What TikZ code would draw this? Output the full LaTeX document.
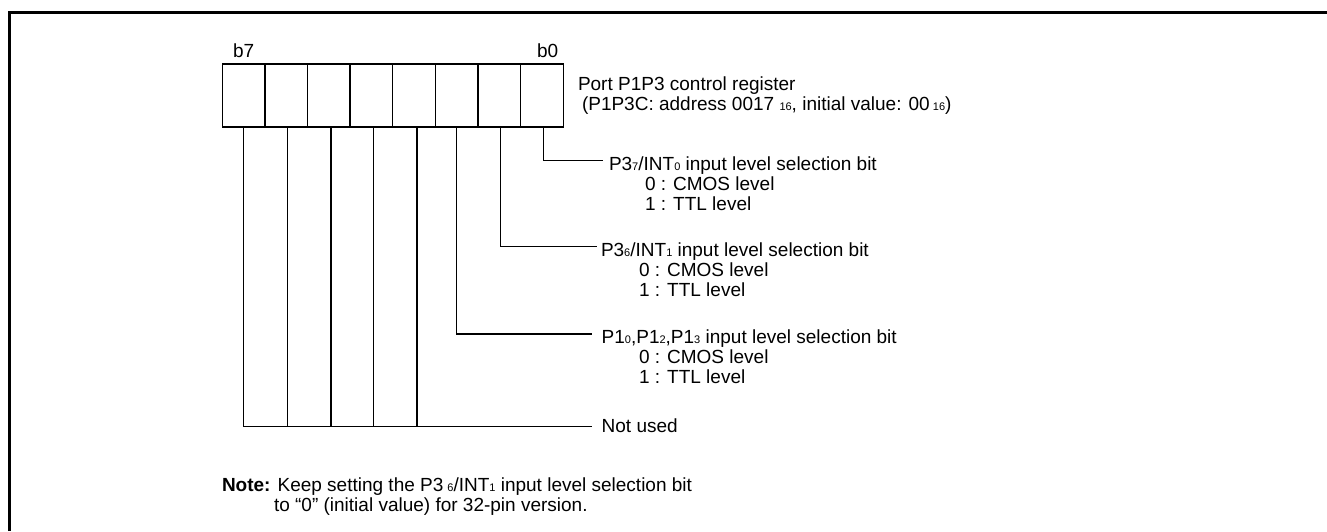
\documentclass[tikz,border=0pt]{standalone}
\usepackage{fontspec}
\setmainfont{Liberation Sans}
\newcommand{\sbs}[1]{{\fontsize{11}{11}\selectfont #1}}
\begin{document}
\begin{tikzpicture}[x=1pt,y=-1pt,
  every node/.style={inner sep=0pt, outer sep=0pt},
  txt/.style={anchor=base west, font=\fontsize{19}{20}\selectfont},
  cell/.style={draw, line width=1.4pt, minimum width=42.62pt, minimum height=63pt, anchor=north west},
  wire/.style={line width=1.3pt},
  frame/.style={line width=2.6pt}]
\useasboundingbox (0,0) rectangle (1327,531);
\draw[frame] (9.3,531) -- (9.3,12.7) -- (1327,12.7);
% register cells
\foreach \n [count=\i from 0] in {7,6,5,4,3,2,1,0}
  \node[cell] (c\n) at ({222.3+\i*42.62},64) {};
\node[txt] (b7) at (233,57) {b7};
\node[txt] (b0) at (537,57) {b0};
\node[txt] (title) at (578,90) {Port P1P3 control register};
\node[txt] (addr) at (582,110) {(P1P3C: address 0017 \sbs{16}, initial value: 00\,\sbs{16})};
% connector ends
\coordinate (e0) at (603,160.7);
\coordinate (e1) at (596.7,246.7);
\coordinate (e2) at (591.7,334);
\coordinate (enu) at (591.7,426.7);
\draw[wire] ([xshift=1.5pt]c0.south) |- (e0);
\draw[wire] ([xshift=1pt]c1.south) |- (e1);
\draw[wire] (c2.south) |- (e2);
\draw[wire] (c7.south) |- (enu);
\foreach \n/\s in {6/1,5/2,4/2,3/3}
  \draw[wire] ([xshift=\s pt]c\n.south) -- ([xshift=\s pt]c\n.south |- enu);
% labels
\node[txt] (l0) at (609,170.5) {P3\sbs{7}/INT\sbs{0} input level selection bit};
\node[txt] (l0a) at (645,190.5) {0 : CMOS level};
\node[txt] (l0b) at (645,210.5) {1 : TTL level};
\node[txt] (l1) at (601,256.5) {P3\sbs{6}/INT\sbs{1} input level selection bit};
\node[txt] (l1a) at (639,276.5) {0 : CMOS level};
\node[txt] (l1b) at (639,296.5) {1 : TTL level};
\node[txt] (l2) at (601.7,343.5) {P1\sbs{0},P1\sbs{2},P1\sbs{3} input level selection bit};
\node[txt] (l2a) at (639,363.5) {0 : CMOS level};
\node[txt] (l2b) at (639,383.5) {1 : TTL level};
\node[txt] (nu) at (601.7,432) {Not used};
% note
\node[txt] (note1) at (222,491) {\textbf{Note:} Keep setting the P3\hspace{4pt}\sbs{6}/INT\sbs{1} input level selection bit};
\node[txt] (note2) at (274,511) {to ``0'' (initial value) for 32-pin version.};
\end{tikzpicture}
\end{document}
